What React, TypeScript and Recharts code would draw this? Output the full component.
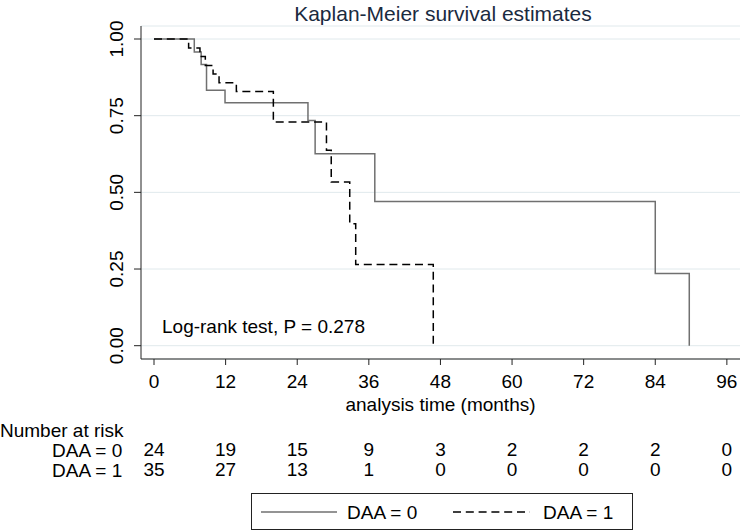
import React from 'react';
import { LineChart, Line, XAxis, YAxis, CartesianGrid } from 'recharts';

const FONT = '"Liberation Sans", Arial, sans-serif';

// DAA = 0 (solid)
const months0 = [0, 6.75, 7.9, 8.8, 11.9, 25.8, 27, 37, 84, 89.7];
const surv0 = [1, 0.958, 0.917, 0.833, 0.792, 0.734, 0.626, 0.47, 0.235, 0];
// DAA = 1 (dashed)
const months1 = [0, 5.8, 7.7, 8.6, 9.9, 10.9, 13.8, 20, 28.9, 29.7, 32.8, 33.8, 46.8];
const surv1 = [1, 0.971, 0.943, 0.914, 0.886, 0.857, 0.829, 0.729, 0.637, 0.534, 0.398, 0.265, 0];

const xTicks = [0, 12, 24, 36, 48, 60, 72, 84, 96];
const yTicks = [0, 0.25, 0.5, 0.75, 1];
const risk0 = [24, 19, 15, 9, 3, 2, 2, 2, 0];
const risk1 = [35, 27, 13, 1, 0, 0, 0, 0, 0];
const groupLabels = ['DAA = 0', 'DAA = 1'];

const data0 = months0.map((m, i) => ({ t: m, s: surv0[i] }));
const data1 = months1.map((m, i) => ({ t: m, s: surv1[i] }));

const X_DOMAIN: [number, number] = [-2.18, 98.2];
const Y_DOMAIN: [number, number] = [-0.0434, 1.0424];

const YTick = (props: any) => {
  const { x, y, payload } = props;
  return (
    <text
      x={x}
      y={y}
      transform={`rotate(-90, ${x}, ${y})`}
      textAnchor="middle"
      fontSize={19}
      fill="#000"
      fontFamily={FONT}
    >
      {Number(payload.value).toFixed(2)}
    </text>
  );
};

// x tick label plus the two "number at risk" rows, placed at the axis scale position
const XTick = (props: any) => {
  const { x, y, payload } = props;
  const i = xTicks.indexOf(payload.value);
  const common = { x, textAnchor: 'middle' as const, fontSize: 19, fill: '#000', fontFamily: FONT, dy: '0.71em' };
  return (
    <g>
      <text {...common} y={y}>{payload.value}</text>
      <text {...common} y={y + 68}>{risk0[i]}</text>
      <text {...common} y={y + 88}>{risk1[i]}</text>
    </g>
  );
};

export default function App() {
  return (
    <div style={{ position: 'absolute', left: 0, top: 0, width: 740, height: 531, background: '#fff', fontFamily: FONT }}>
      <LineChart
        width={740}
        height={531}
        margin={{ top: 26, right: 0, left: 0, bottom: 0 }}
        style={{ fontFamily: FONT }}
      >
        <CartesianGrid horizontal vertical={false} stroke="#e0e9ec" strokeWidth={1} />
        <XAxis
          dataKey="t"
          type="number"
          domain={X_DOMAIN}
          allowDataOverflow
          ticks={xTicks}
          interval={0}
          height={172}
          tickSize={6}
          tickMargin={10}
          tick={<XTick />}
          axisLine={{ stroke: '#222', strokeWidth: 1 }}
          tickLine={{ stroke: '#222', strokeWidth: 1 }}
          label={{ value: 'analysis time (months)', position: 'insideTop', offset: 39, fontSize: 19, fill: '#000', fontFamily: FONT }}
        />
        <YAxis
          type="number"
          domain={Y_DOMAIN}
          allowDataOverflow
          ticks={yTicks}
          interval={0}
          width={141}
          tickSize={7}
          tickMargin={11}
          tick={<YTick />}
          axisLine={{ stroke: '#222', strokeWidth: 1 }}
          tickLine={{ stroke: '#222', strokeWidth: 1 }}
        />
        <Line
          data={data0}
          dataKey="s"
          type="stepAfter"
          stroke="#707070"
          strokeWidth={1.5}
          dot={false}
          activeDot={false}
          isAnimationActive={false}
          name={groupLabels[0]}
        />
        <Line
          data={data1}
          dataKey="s"
          type="stepAfter"
          stroke="#000"
          strokeWidth={1.5}
          strokeDasharray="8 4.8"
          dot={false}
          activeDot={false}
          isAnimationActive={false}
          name={groupLabels[1]}
        />
      </LineChart>
      <svg
        width={740}
        height={531}
        style={{ position: 'absolute', left: 0, top: 0, pointerEvents: 'none' }}
      >
        <text x={443} y={21} textAnchor="middle" fontSize={21} fontFamily={FONT} fill="#1a2a40">
          Kaplan-Meier survival estimates
        </text>
        <text x={162} y={333} fontSize={19} fontFamily={FONT} fill="#000">
          Log-rank test, P = 0.278
        </text>
        <text x={0} y={437} fontSize={19} fontFamily={FONT} fill="#000">
          Number at risk
        </text>
        <text x={52} y={457} fontSize={19} fontFamily={FONT} fill="#000">
          {groupLabels[0]}
        </text>
        <text x={52} y={477} fontSize={19} fontFamily={FONT} fill="#000">
          {groupLabels[1]}
        </text>
        <g transform="translate(251, 493)">
          <rect x={0.5} y={0.5} width={381} height={36} fill="#fff" stroke="#222" strokeWidth={1} />
          <line x1={10} y1={19} x2={86} y2={19} stroke="#707070" strokeWidth={1.5} />
          <text x={96} y={26} fontSize={19} fontFamily={FONT} fill="#000">{groupLabels[0]}</text>
          <line x1={202} y1={19} x2={279} y2={19} stroke="#000" strokeWidth={1.5} strokeDasharray="8 4.8" />
          <text x={292} y={26} fontSize={19} fontFamily={FONT} fill="#000">{groupLabels[1]}</text>
        </g>
      </svg>
    </div>
  );
}
